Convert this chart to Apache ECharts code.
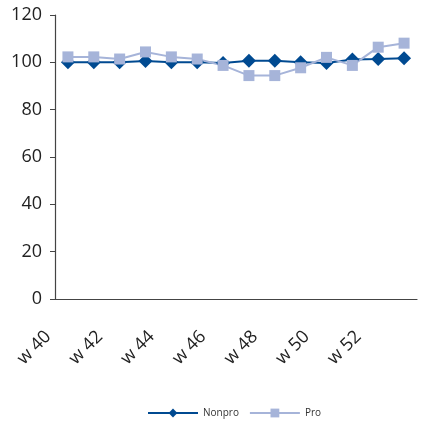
<!DOCTYPE html>
<html>
<head>
<meta charset="utf-8">
<script src="https://cdn.jsdelivr.net/npm/echarts@6/dist/echarts.min.js"></script>
<style>
html,body{margin:0;padding:0;background:#fff;}
#chart{width:421px;height:427px;}
</style>
</head>
<body>
<div id="chart"></div>
<script>
var categories = ["w 40","w 41","w 42","w 43","w 44","w 45","w 46","w 47","w 48","w 49","w 50","w 51","w 52","w 53"];
var nonproValues = [100, 100, 100, 100.6, 100, 100, 99.7, 100.7, 100.7, 100, 99.7, 101.2, 101.4, 101.7];
var proValues = [102.3, 102.3, 101.4, 104.4, 102.3, 101.4, 98.7, 94.4, 94.4, 97.7, 102.1, 98.7, 106.4, 108.1];
var yTicks = [0, 20, 40, 60, 80, 100, 120];

var chart = echarts.init(document.getElementById('chart'), null, {renderer: 'canvas'});
chart.setOption({
  animation: false,
  backgroundColor: '#fff',
  grid: {left: 55, right: 4, top: 15, bottom: 128, containLabel: false},
  legend: {
    left: 147, top: 408, padding: 0,
    itemWidth: 50, itemHeight: 11, itemGap: 10,
    textStyle: {fontFamily: 'Open Sans', fontSize: 10, color: '#333'},
    data: ['Nonpro', 'Pro']
  },
  xAxis: {
    type: 'category',
    data: categories,
    boundaryGap: true,
    axisLine: {lineStyle: {color: '#444', width: 1.2}},
    axisTick: {interval: 0, length: 5, lineStyle: {color: '#444'}},
    axisLabel: {
      interval: 1, rotate: 45, margin: 15,
      padding: [0, 28, 0, 0],
      fontFamily: 'Open Sans', fontSize: 18, color: '#222'
    }
  },
  yAxis: {
    type: 'value',
    min: yTicks[0], max: yTicks[yTicks.length - 1], interval: 20,
    axisLine: {show: true, lineStyle: {color: '#444', width: 1.2}},
    axisTick: {show: true, length: 5, lineStyle: {color: '#444'}},
    splitLine: {show: false},
    axisLabel: {margin: 13, fontFamily: 'Open Sans', fontSize: 18, color: '#222'}
  },
  series: [
    {
      name: 'Nonpro', type: 'line', data: nonproValues,
      symbol: 'diamond', symbolSize: 14,
      lineStyle: {color: '#004A91', width: 2},
      itemStyle: {color: '#004A91'}
    },
    {
      name: 'Pro', type: 'line', data: proValues,
      symbol: 'rect', symbolSize: 11,
      lineStyle: {color: '#A6B4D9', width: 2},
      itemStyle: {color: '#A6B4D9'}
    }
  ]
});
</script>
</body>
</html>
